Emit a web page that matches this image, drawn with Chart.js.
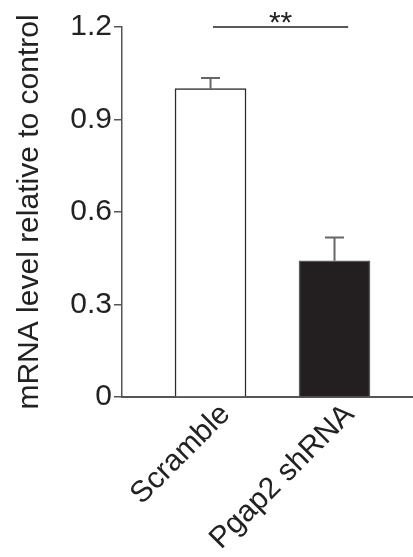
<!DOCTYPE html>
<html>
<head>
<meta charset="utf-8">
<script src="https://cdn.jsdelivr.net/npm/chart.js@4/dist/chart.umd.min.js"></script>
<style>
  body { margin: 0; background: #fff; }
  #wrap { width: 413px; height: 557px; }
</style>
</head>
<body>
<div id="wrap"><canvas id="chart1"></canvas></div>
<script>
const categories = ['Scramble', 'Pgap2 shRNA'];
const means = [1.0, 0.442];
const errors = [0.035, 0.075];
const yTickValues = [0, 0.3, 0.6, 0.9, 1.2];
const sigLabel = '**';
const sigFrom = 0.02, sigTo = 1.11, sigLevel = 1.2;

const FONT = 'Liberation Sans, Arial, Helvetica, sans-serif';

// barras de erro (só para cima) + linha de significância
const extras = {
    id: 'extras',
    afterDatasetsDraw(chart) {
        const ctx = chart.ctx;
        const xs = chart.scales.x, ys = chart.scales.y;
        ctx.save();
        ctx.strokeStyle = '#666';
        ctx.lineWidth = 2;
        for (let i = 0; i < means.length; i++) {
            const px = xs.getPixelForValue(i);
            const y0 = ys.getPixelForValue(means[i]);
            const y1 = ys.getPixelForValue(means[i] + errors[i]);
            ctx.beginPath();
            ctx.moveTo(px, y0);
            ctx.lineTo(px, y1);
            ctx.moveTo(px - 9.5, y1);
            ctx.lineTo(px + 9.5, y1);
            ctx.stroke();
        }
        const sy = ys.getPixelForValue(sigLevel);
        const a = xs.getPixelForValue(sigFrom), b = xs.getPixelForValue(sigTo);
        ctx.strokeStyle = '#222';
        ctx.lineWidth = 1.5;
        ctx.beginPath();
        ctx.moveTo(a, sy);
        ctx.lineTo(b, sy);
        ctx.stroke();
        ctx.fillStyle = '#222';
        ctx.font = '30px ' + FONT;
        ctx.textAlign = 'center';
        ctx.textBaseline = 'alphabetic';
        ctx.fillText(sigLabel, (a + b) / 2, sy + 5);
        ctx.restore();
    }
};

const ctx1 = document.getElementById('chart1').getContext('2d');
const chart1 = new Chart(ctx1, {
    type: 'bar',
    data: {
        datasets: [{
            data: means.map((v, i) => ({ x: i, y: v })),
            backgroundColor: ['#ffffff', '#231f20'],
            borderColor: ['#2b2b2b', '#5a5a5a'],
            borderWidth: 1.5,
            borderSkipped: 'bottom',
            barThickness: 71
        }]
    },
    options: {
        responsive: true,
        maintainAspectRatio: false,
        animation: false,
        layout: { padding: { top: 27, left: 0, right: 0, bottom: 0 } },
        plugins: { legend: { display: false }, tooltip: { enabled: false } },
        scales: {
            x: {
                type: 'linear',
                min: -0.714,
                max: 1.633,
                offset: false,
                afterBuildTicks: (s) => { s.ticks = categories.map((_, i) => ({ value: i })); },
                afterFit: (s) => { s.height = 160; },
                grid: { drawOnChartArea: false, drawTicks: false },
                border: { color: '#555', width: 2 },
                ticks: {
                    minRotation: 45,
                    maxRotation: 45,
                    padding: 0,
                    labelOffset: 15,
                    color: '#222',
                    font: { family: FONT, size: 30 },
                    callback: (v) => categories[Math.round(v)]
                }
            },
            y: {
                min: 0,
                max: 1.2,
                afterBuildTicks: (s) => { s.ticks = yTickValues.map(v => ({ value: v })); },
                afterFit: (s) => { s.width = 122; },
                grid: { drawOnChartArea: false, color: '#555', tickLength: 8, lineWidth: 1.5 },
                border: { color: '#555', width: 1.5 },
                ticks: {
                    padding: 2,
                    color: '#222',
                    font: { family: FONT, size: 30 },
                    callback: (v) => v === 0 ? '0' : v.toFixed(1)
                },
                title: {
                    display: true,
                    text: 'mRNA level relative to control',
                    color: '#222',
                    font: { family: FONT, size: 30 },
                    padding: { top: 12, bottom: 0 }
                }
            }
        }
    },
    plugins: [extras]
});
</script>
</body>
</html>
